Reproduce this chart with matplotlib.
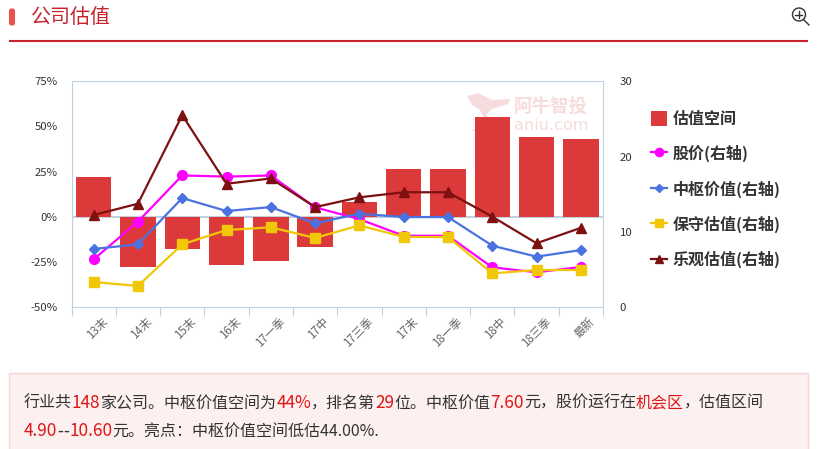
import numpy as np
import matplotlib
matplotlib.use("Agg")
import matplotlib.pyplot as plt
from matplotlib.lines import Line2D
from matplotlib.patches import Patch, Rectangle, FancyBboxPatch, Circle
from matplotlib.transforms import ScaledTranslation

plt.rcParams['font.family'] = ['Noto Sans CJK SC', 'DejaVu Sans']

categories = ['13末', '14末', '15末', '16末', '17一季', '17中', '17三季', '17末', '18一季', '18中', '18三季', '最新']
space = [22.0, -27.5, -17.6, -26.4, -24.2, -16.5, 8.2, 26.5, 26.5, 55.2, 44.2, 43.0]
price = [6.37, 11.37, 17.5, 17.35, 17.5, 13.27, 11.7, 9.5, 9.5, 5.3, 4.65, 5.35]
central = [7.74, 8.36, 14.5, 12.78, 13.3, 11.15, 12.43, 11.98, 11.98, 8.18, 6.72, 7.6]
conservative = [3.36, 2.83, 8.36, 10.26, 10.62, 9.2, 10.88, 9.33, 9.33, 4.5, 4.95, 4.95]
optimistic = [12.25, 13.75, 25.5, 16.4, 17.1, 13.3, 14.6, 15.27, 15.27, 12.03, 8.5, 10.55]
left_ticks = [-50, -25, 0, 25, 50, 75]
right_ticks = [0, 10, 20, 30]

W, H = 834, 449
fig = plt.figure(figsize=(W / 100, H / 100), dpi=100, facecolor='white')

# page furniture in pixel coordinates
bg = fig.add_axes([0, 0, 1, 1], zorder=0)
bg.set_xlim(0, W)
bg.set_ylim(H, 0)
bg.axis('off')
bg.add_patch(FancyBboxPatch((9.5, 9), 5, 16, boxstyle='round,pad=0,rounding_size=2', fc='#e8534f', ec='#e8534f', lw=0.8))
bg.text(31, 17.5, '公司估值', fontsize=14.4, color='#c8232c', va='center', ha='left')
bg.plot([9, 808], [41, 41], color='#c8232c', lw=1.5, solid_capstyle='butt')
bg.add_patch(Circle((799, 14.5), 6.5, fc='none', ec='#333333', lw=1))
bg.plot([795.5, 802.5], [14.5, 14.5], color='#333333', lw=1)
bg.plot([799, 799], [11, 18], color='#333333', lw=1)
bg.plot([803.5, 809], [19.5, 25], color='#333333', lw=1)
bg.add_patch(Rectangle((9.5, 372.5), 799, 90, fc='#fdf0f0', ec='#f8d3d3', lw=1))
bg.text(514, 106, '阿牛智投', fontsize=13.3, color='#f6dcdc', weight='bold', va='center', ha='left')
bg.text(514, 125, 'aniu.com', fontsize=11.6, color='#f6dcdc', va='center', ha='left', family=['DejaVu Sans'])
bg.fill([467, 478, 492, 510, 508, 492, 486, 497, 482, 472, 486, 480, 472], [96, 93, 100, 99, 104, 109, 115, 122, 131, 131, 121, 110, 105],
        color='#f6dcdc', lw=0)

# paragraph with coloured runs
DARK, RED = '#333333', '#e01515'
CJK_SIZE, NUM_SIZE = 11.52, 12.4
line1 = [('行业共', DARK, CJK_SIZE), ('148', RED, NUM_SIZE), ('家公司。中枢价值空间为', DARK, CJK_SIZE), ('44%', RED, NUM_SIZE),
         ('，排名第', DARK, CJK_SIZE), ('29', RED, NUM_SIZE), ('位。中枢价值', DARK, CJK_SIZE), ('7.60', RED, NUM_SIZE),
         ('元，股价运行在', DARK, CJK_SIZE), ('机会区', RED, CJK_SIZE), ('，估值区间', DARK, CJK_SIZE)]
line2 = [('4.90', RED, NUM_SIZE), ('-', DARK, NUM_SIZE), ('-', DARK, NUM_SIZE), ('10.60', RED, NUM_SIZE),
         ('元。亮点：中枢价值空间低估44.00%.', DARK, CJK_SIZE)]
fig.canvas.draw()
renderer = fig.canvas.get_renderer()


def advance(s, size):
    """Pen advance of a run, measured between two full-width characters."""
    a = bg.text(0, 0, '中' + s + '中', fontsize=size)
    b = bg.text(0, 0, '中中', fontsize=size)
    w = a.get_window_extent(renderer).width - b.get_window_extent(renderer).width
    a.remove()
    b.remove()
    return w


for runs, y in ((line1, 403.5), (line2, 431.5)):
    x = 24
    for s, c, size in runs:
        bg.text(x, y, s, fontsize=size, color=c, va='center', ha='left')
        x += advance(s, size)

# chart
x0, x1, y0, y1 = 71.5, 603, 81.3, 307.3
ax = fig.add_axes([x0 / W, 1 - y1 / H, (x1 - x0) / W, (y1 - y0) / H], zorder=1)
ax.patch.set_visible(False)
x = np.arange(len(categories))
GRID = '#c0d0e0'
ax.bar(x, space, width=0.8, color='#dc3a3a', zorder=2)
ax.axhline(0, color=GRID, lw=1.5, zorder=1)
ax.set_xlim(-0.5, len(categories) - 0.5)
ax.set_ylim(left_ticks[0], left_ticks[-1])
ax.set_yticks(left_ticks)
ax.set_yticklabels([f'{v}%' for v in left_ticks], fontsize=8.2, color='#333333')
ax.tick_params(axis='y', length=0, pad=10)
ax.set_xticks(x)
ax.set_xticklabels(categories, rotation=45, ha='right', rotation_mode='anchor', fontsize=8.3, color='#666666')
ax.tick_params(axis='x', which='major', length=0, pad=9)
shift = ScaledTranslation(7.5 / 100, 5 / 100, fig.dpi_scale_trans)
for lab in ax.get_xticklabels():
    lab.set_transform(lab.get_transform() + shift)
ax.set_xticks(np.arange(len(categories) + 1) - 0.5, minor=True)
ax.tick_params(axis='x', which='minor', length=6.5, width=0.8, color=GRID)
for s in ax.spines.values():
    s.set_color(GRID)
    s.set_linewidth(0.8)

ax2 = ax.twinx()
ax2.set_zorder(2)
ax2.patch.set_visible(False)
ax2.set_ylim(right_ticks[0], right_ticks[-1])
ax2.set_yticks(right_ticks)
ax2.set_yticklabels([str(v) for v in right_ticks], fontsize=8.2, color='#333333')
ax2.tick_params(axis='y', length=0, pad=12)
for s in ax2.spines.values():
    s.set_visible(False)

styles = [
    ('股价(右轴)', price, '#ff00ff', 'o', 7),
    ('中枢价值(右轴)', central, '#4a72e0', 'D', 4.6),
    ('保守估值(右轴)', conservative, '#f0c808', 's', 6.5),
    ('乐观估值(右轴)', optimistic, '#7d1010', '^', 6.5),
]
handles = [Patch(fc='#dc3a3a', ec='none', label='估值空间')]
for label, vals, col, mk, ms in styles:
    ax2.plot(x, vals, color=col, lw=1.6, marker=mk, ms=ms, mec=col, zorder=3)
    handles.append(Line2D([], [], color=col, lw=1.6, marker=mk, ms=ms * 0.85, mec=col, label=label))

fig.legend(handles=handles, loc='upper left', bbox_to_anchor=(651 / W, 1 - 110.5 / H), bbox_transform=fig.transFigure,
           frameon=False, borderpad=0, borderaxespad=0, fontsize=11.52, handlelength=1.0, handleheight=1.1,
           handletextpad=0.35, labelspacing=1.14, labelcolor='#333333', prop={'size': 11.52, 'weight': 'bold'})

fig.savefig('out.png', dpi=100)
